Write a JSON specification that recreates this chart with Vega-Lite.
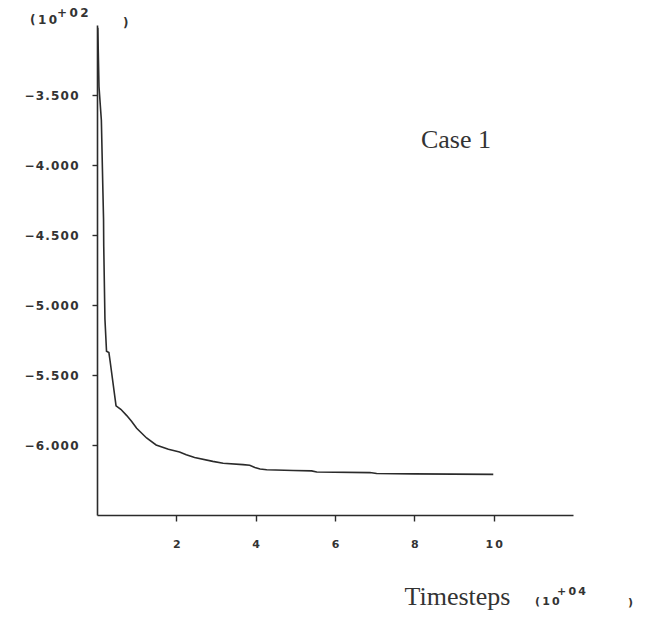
{
  "$schema": "https://vega.github.io/schema/vega-lite/v6.json",
  "width": 476,
  "height": 490,
  "autosize": {"type": "none"},
  "padding": {"left": 97, "top": 25, "right": 79, "bottom": 104},
  "background": "white",
  "config": {
    "view": {"stroke": null},
    "axis": {
      "grid": false,
      "domainColor": "#2b2b2b",
      "domainWidth": 1.6,
      "tickColor": "#2b2b2b",
      "tickWidth": 1.4,
      "labelColor": "#333333",
      "labelFont": "DejaVu Sans",
      "labelFontWeight": "bold",
      "titleColor": "#333333"
    }
  },
  "layer": [
    {
      "data": {
        "values": [
          {"t": 0.02, "e": -3.02},
          {"t": 0.05, "e": -3.44},
          {"t": 0.11, "e": -3.68},
          {"t": 0.15, "e": -4.2},
          {"t": 0.165, "e": -4.39},
          {"t": 0.17, "e": -4.58},
          {"t": 0.2, "e": -5.1},
          {"t": 0.24, "e": -5.33},
          {"t": 0.3, "e": -5.34},
          {"t": 0.33, "e": -5.4},
          {"t": 0.48, "e": -5.72},
          {"t": 0.6, "e": -5.745},
          {"t": 0.75, "e": -5.79},
          {"t": 0.87, "e": -5.83},
          {"t": 1.0, "e": -5.88},
          {"t": 1.25, "e": -5.95},
          {"t": 1.49, "e": -6.0},
          {"t": 1.8, "e": -6.03},
          {"t": 2.08, "e": -6.05},
          {"t": 2.25, "e": -6.07},
          {"t": 2.46, "e": -6.09},
          {"t": 2.92, "e": -6.117},
          {"t": 3.18, "e": -6.13},
          {"t": 3.68, "e": -6.14},
          {"t": 3.85, "e": -6.145},
          {"t": 3.98, "e": -6.16},
          {"t": 4.11, "e": -6.172},
          {"t": 4.28, "e": -6.177},
          {"t": 4.95, "e": -6.182},
          {"t": 5.41, "e": -6.185},
          {"t": 5.54, "e": -6.193},
          {"t": 6.88, "e": -6.197},
          {"t": 7.05, "e": -6.204},
          {"t": 7.97, "e": -6.206},
          {"t": 9.99, "e": -6.21}
        ]
      },
      "mark": {"type": "line", "color": "#2b2b2b", "strokeWidth": 1.6},
      "encoding": {
        "x": {
          "field": "t",
          "type": "quantitative",
          "scale": {"domain": [0, 12], "nice": false, "zero": false},
          "axis": {
            "values": [2, 4, 6, 8, 10],
            "tickSize": 6,
            "labelPadding": 17,
            "labelFontSize": 11,
            "labelExpr": "replace(format(datum.value, 'd'), regexp('(.)(?!$)', 'g'), '$1\u2009')",
            "title": "Timesteps",
            "titleFont": "Liberation Serif",
            "titleFontSize": 26,
            "titleFontWeight": "normal",
            "titleAlign": "center",
            "titleBaseline": "alphabetic",
            "titleX": 360,
            "titleY": 89
          }
        },
        "y": {
          "field": "e",
          "type": "quantitative",
          "scale": {"domain": [-6.5, -3.0], "nice": false, "zero": false},
          "axis": {
            "values": [-6, -5.5, -5, -4.5, -4, -3.5],
            "tickSize": 5,
            "labelPadding": 14,
            "labelFontSize": 12,
            "labelExpr": "replace(format(datum.value, '.3f'), regexp('(.)(?!$)', 'g'), '$1\u200a')",
            "title": null
          }
        }
      }
    },
    {
      "data": {"values": [{}]},
      "mark": {"type": "text", "text": "Case 1", "font": "Liberation Serif", "fontSize": 26, "align": "center", "baseline": "alphabetic", "color": "#333333"},
      "encoding": {
        "x": {"datum": 9.05, "type": "quantitative"},
        "y": {"datum": -3.879, "type": "quantitative"}
      }
    },
    {
      "data": {"values": [{}]},
      "mark": {"type": "text", "text": "(\u20091\u20090", "font": "DejaVu Sans", "fontWeight": "bold", "fontSize": 12, "align": "left", "baseline": "alphabetic", "color": "#333333"},
      "encoding": {
        "x": {"datum": -1.689, "type": "quantitative"},
        "y": {"datum": -2.993, "type": "quantitative"}
      }
    },
    {
      "data": {"values": [{}]},
      "mark": {"type": "text", "text": "+\u20090\u20092", "font": "DejaVu Sans", "fontWeight": "bold", "fontSize": 12, "align": "left", "baseline": "alphabetic", "color": "#333333"},
      "encoding": {
        "x": {"datum": -1.008, "type": "quantitative"},
        "y": {"datum": -2.943, "type": "quantitative"}
      }
    },
    {
      "data": {"values": [{}]},
      "mark": {"type": "text", "text": ")", "font": "DejaVu Sans", "fontWeight": "bold", "fontSize": 12, "align": "left", "baseline": "alphabetic", "color": "#333333"},
      "encoding": {
        "x": {"datum": 0.655, "type": "quantitative"},
        "y": {"datum": -3.014, "type": "quantitative"}
      }
    },
    {
      "data": {"values": [{}]},
      "mark": {"type": "text", "text": "(\u20091\u20090", "font": "DejaVu Sans", "fontWeight": "bold", "fontSize": 11, "align": "left", "baseline": "alphabetic", "color": "#333333"},
      "encoding": {
        "x": {"datum": 11.04, "type": "quantitative"},
        "y": {"datum": -7.143, "type": "quantitative"}
      }
    },
    {
      "data": {"values": [{}]},
      "mark": {"type": "text", "text": "+\u20090\u20094", "font": "DejaVu Sans", "fontWeight": "bold", "fontSize": 11, "align": "left", "baseline": "alphabetic", "color": "#333333"},
      "encoding": {
        "x": {"datum": 11.597, "type": "quantitative"},
        "y": {"datum": -7.071, "type": "quantitative"}
      }
    },
    {
      "data": {"values": [{}]},
      "mark": {"type": "text", "text": ")", "font": "DejaVu Sans", "fontWeight": "bold", "fontSize": 11, "align": "left", "baseline": "alphabetic", "color": "#333333"},
      "encoding": {
        "x": {"datum": 13.387, "type": "quantitative"},
        "y": {"datum": -7.15, "type": "quantitative"}
      }
    }
  ]
}
